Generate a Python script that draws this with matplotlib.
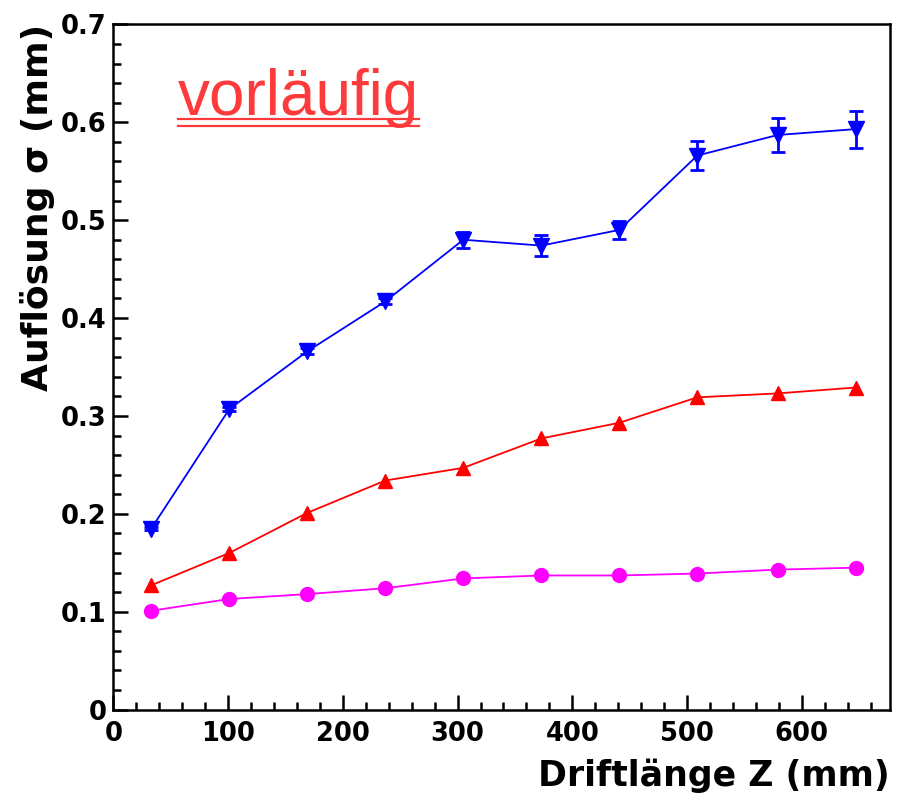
import numpy as np
import matplotlib
matplotlib.use('Agg')
import matplotlib.pyplot as plt
from matplotlib.ticker import MultipleLocator

# drift length positions (mm)
z = [33, 101, 169, 237, 305, 373, 441, 509, 579, 647]

# resolution sigma (mm) for the three sets
sig_blue = [0.185, 0.307, 0.366, 0.417, 0.480, 0.474, 0.490, 0.566, 0.587, 0.593]
err_blue = [0.002, 0.002, 0.003, 0.003, 0.008, 0.011, 0.009, 0.0145, 0.017, 0.019]
sig_red = [0.127, 0.160, 0.201, 0.234, 0.247, 0.277, 0.293, 0.319, 0.323, 0.329]
sig_mag = [0.101, 0.113, 0.118, 0.124, 0.134, 0.137, 0.137, 0.139, 0.143, 0.145]

xlab = 'Driftlänge Z (mm)'
ylab = 'Auflösung σ (mm)'
stamp = 'vorläufig'

plt.rcParams['font.family'] = ['DejaVu Sans']
fig = plt.figure(figsize=(8.97, 8.07), dpi=100)
ax = fig.add_axes([0.1265, 0.1207, 0.8657, 0.8491])

ax.errorbar(z, sig_blue, yerr=err_blue, color='#0000ff', marker='v', markersize=11,
            lw=1.3, elinewidth=2, capsize=5, capthick=2)
ax.plot(z, sig_red, color='#ff0000', marker='^', markersize=10, lw=1.3)
ax.plot(z, sig_mag, color='#ff00ff', marker='o', markersize=10, lw=1.3)

ax.set_xlim(0, 677)
ax.set_ylim(0, 0.7)
ax.xaxis.set_major_locator(MultipleLocator(100))
ax.xaxis.set_minor_locator(MultipleLocator(20))
ax.yaxis.set_minor_locator(MultipleLocator(0.02))
ax.set_yticks(np.arange(0, 0.71, 0.1))
ax.set_yticklabels(['0'] + ['%.1f' % v for v in np.arange(0.1, 0.71, 0.1)])

ax.tick_params(which='both', direction='in', top=False, right=False, width=1.8)
ax.tick_params(which='major', length=11, labelsize=18.5, pad=5)
ax.tick_params(axis='x', which='major', pad=8)
ax.tick_params(which='minor', length=6)
for lab in ax.get_xticklabels() + ax.get_yticklabels():
    lab.set_fontweight('bold')
for sp in ax.spines.values():
    sp.set_linewidth(1.8)

ax.set_xlabel(xlab, fontsize=25, fontweight='bold', loc='right')
ax.xaxis.set_label_coords(1.0, -0.072)
ax.set_ylabel(ylab, fontsize=26, fontweight='bold', loc='top')
ax.yaxis.set_label_coords(-0.075, 1.0)

# preliminary stamp with double underline
txt = fig.text(0.198, 0.857, stamp, color='#ff3a3a', fontsize=46,
               family='Liberation Sans')
fig.canvas.draw()
bb = txt.get_window_extent()
H = fig.bbox.height
for dy in (4, 11):
    yy = (0.857 * H - dy) / H
    fig.add_artist(plt.Line2D([bb.x0 / fig.bbox.width, bb.x1 / fig.bbox.width],
                              [yy, yy], color='#ff3a3a', lw=1.6))

fig.savefig('out.png', dpi=100)
